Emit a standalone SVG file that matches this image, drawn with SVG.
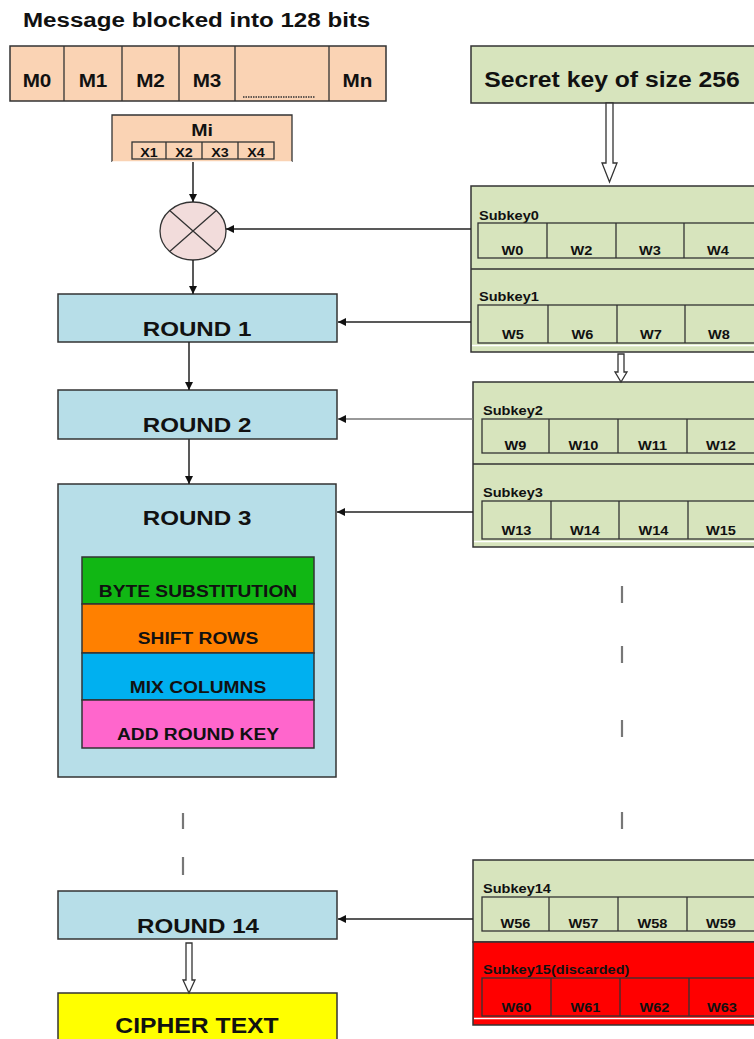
<svg xmlns="http://www.w3.org/2000/svg" width="754" height="1039" viewBox="0 0 754 1039">
<defs>
<style>
text{font-family:"Liberation Sans",Arial,Helvetica,sans-serif;font-weight:bold;fill:#111}
.c{text-anchor:middle}
.box{stroke:#333;stroke-width:1.5}
.cell{fill:none;stroke:#333;stroke-width:1.3}
.peach{fill:#FAD3B4}
.key{fill:#D7E4BD}
.rnd{fill:#B7DEE8}
.ln{stroke:#222;stroke-width:1.5;fill:none}
.lg{stroke:#777;stroke-width:1.5;fill:none}
.dash{stroke:#777;stroke-width:2.2}
.hollow{fill:#fff;stroke:#333;stroke-width:1.3}
.t21{font-size:21px}.t18{font-size:18px}.t17{font-size:17px}.t13{font-size:13px}.t22{font-size:21.5px}
</style>
<marker id="ah" viewBox="0 0 10 10" refX="10" refY="5" markerWidth="10" markerHeight="8" markerUnits="userSpaceOnUse" orient="auto">
<path d="M0,0 L10,5 L0,10 Z" fill="#111"/>
</marker>
</defs>
<rect width="754" height="1039" fill="#fff"/>

<g id="title">
<text class="t21" transform="translate(23,27) scale(1.15,1)">Message blocked into 128 bits</text>
</g>

<g id="message">
<rect class="peach box" x="10" y="46" width="376" height="55"/>
<path class="cell" d="M64,46V101M122,46V101M179,46V101M235,46V101M329,46V101"/>
<text class="t18 c" transform="translate(37,87) scale(1.15,1)">M0</text>
<text class="t18 c" transform="translate(93,87) scale(1.15,1)">M1</text>
<text class="t18 c" transform="translate(150.5,87) scale(1.15,1)">M2</text>
<text class="t18 c" transform="translate(207,87) scale(1.15,1)">M3</text>
<text class="t18 c" transform="translate(357.5,87) scale(1.15,1)">Mn</text>
<line x1="243" y1="97" x2="315" y2="97" stroke="#333" stroke-width="1.5" stroke-dasharray="1.5,1"/>
</g>

<g id="mi">
<rect class="peach" x="112" y="115" width="180" height="47"/>
<path class="cell" d="M112,162V115H292V162"/>
<line x1="112" y1="162" x2="292" y2="162" stroke="#fff" stroke-width="1.5"/>
<text class="t17 c" transform="translate(202,136) scale(1.15,1)">Mi</text>
<rect class="cell" x="132" y="142" width="142" height="17"/>
<path class="cell" d="M166,142V159M202,142V159M238,142V159"/>
<text class="t13 c" transform="translate(149,157) scale(1.1,1)">X1</text>
<text class="t13 c" transform="translate(184,157) scale(1.1,1)">X2</text>
<text class="t13 c" transform="translate(220,157) scale(1.1,1)">X3</text>
<text class="t13 c" transform="translate(256,157) scale(1.1,1)">X4</text>
</g>

<g id="xor">
<ellipse cx="193" cy="231" rx="33" ry="29" fill="#F2DCDB" stroke="#333" stroke-width="1.3"/>
<path d="M169.7,210.5L216.3,251.5M216.3,210.5L169.7,251.5" stroke="#333" stroke-width="1.3"/>
</g>

<g id="secretkey">
<rect class="key box" x="471" y="46" width="300" height="57"/>
<text class="t22 c" transform="translate(612,87) scale(1.15,1)">Secret key of size 256</text>
</g>

<g id="round1">
<rect class="rnd box" x="58" y="294" width="279" height="48"/>
<text class="t21 c" transform="translate(197,336) scale(1.15,1)">ROUND 1</text>
</g>
<g id="round2">
<rect class="rnd box" x="58" y="390" width="279" height="49"/>
<text class="t21 c" transform="translate(197,432) scale(1.15,1)">ROUND 2</text>
</g>
<g id="round3">
<rect class="rnd box" x="58" y="484" width="278" height="293"/>
<text class="t21 c" transform="translate(197,525) scale(1.15,1)">ROUND 3</text>
<rect x="82" y="557" width="232" height="47" fill="#11B714" class="box"/>
<rect x="82" y="604" width="232" height="49" fill="#FF8000" class="box"/>
<rect x="82" y="653" width="232" height="47" fill="#00B0F0" class="box"/>
<rect x="82" y="700" width="232" height="48" fill="#FF66CC" class="box"/>
<text class="t17 c" transform="translate(198,597) scale(1.13,1)">BYTE SUBSTITUTION</text>
<text class="t17 c" transform="translate(198,644) scale(1.13,1)">SHIFT ROWS</text>
<text class="t17 c" transform="translate(198,693) scale(1.13,1)">MIX COLUMNS</text>
<text class="t17 c" transform="translate(198,740) scale(1.13,1)">ADD ROUND KEY</text>
</g>
<g id="round14">
<rect class="rnd box" x="58" y="891" width="279" height="48"/>
<text class="t21 c" transform="translate(198,933) scale(1.15,1)">ROUND 14</text>
</g>
<g id="ciphertext">
<rect x="58" y="993" width="279" height="60" fill="#FFFF00" class="box"/>
<text class="t22 c" transform="translate(197,1033) scale(1.15,1)">CIPHER TEXT</text>
</g>

<g id="subkeys0-1">
<rect class="key box" x="471" y="186" width="300" height="166"/>
<line x1="471" y1="269" x2="754" y2="269" stroke="#333" stroke-width="1.3"/>
<text class="t13" transform="translate(479,220) scale(1.12,1)">Subkey0</text>
<rect class="cell" x="478" y="223" width="280" height="35"/>
<path class="cell" d="M547,223V258M616,223V258M684,223V258"/>
<text class="t13 c" transform="translate(512.5,255) scale(1.12,1)">W0</text>
<text class="t13 c" transform="translate(581.5,255) scale(1.12,1)">W2</text>
<text class="t13 c" transform="translate(650,255) scale(1.12,1)">W3</text>
<text class="t13 c" transform="translate(718,255) scale(1.12,1)">W4</text>
<text class="t13" transform="translate(479,301) scale(1.12,1)">Subkey1</text>
<rect class="cell" x="478" y="305" width="280" height="38"/>
<path class="cell" d="M548,305V343M617,305V343M685,305V343"/>
<text class="t13 c" transform="translate(513,339) scale(1.12,1)">W5</text>
<text class="t13 c" transform="translate(582.5,339) scale(1.12,1)">W6</text>
<text class="t13 c" transform="translate(651,339) scale(1.12,1)">W7</text>
<text class="t13 c" transform="translate(719,339) scale(1.12,1)">W8</text>
<line x1="472" y1="345.5" x2="754" y2="345.5" stroke="#fff" stroke-width="1.5"/>
</g>

<g id="subkeys2-3">
<rect class="key box" x="473" y="382" width="300" height="165"/>
<line x1="473" y1="464" x2="754" y2="464" stroke="#333" stroke-width="1.3"/>
<text class="t13" transform="translate(483,415) scale(1.12,1)">Subkey2</text>
<rect class="cell" x="482" y="419" width="280" height="34"/>
<path class="cell" d="M549,419V453M618,419V453M687,419V453"/>
<text class="t13 c" transform="translate(515.5,450) scale(1.12,1)">W9</text>
<text class="t13 c" transform="translate(583.5,450) scale(1.12,1)">W10</text>
<text class="t13 c" transform="translate(652.5,450) scale(1.12,1)">W11</text>
<text class="t13 c" transform="translate(721,450) scale(1.12,1)">W12</text>
<text class="t13" transform="translate(483,497) scale(1.12,1)">Subkey3</text>
<rect class="cell" x="482" y="501" width="280" height="38"/>
<path class="cell" d="M551,501V539M619,501V539M688,501V539"/>
<text class="t13 c" transform="translate(516.5,535) scale(1.12,1)">W13</text>
<text class="t13 c" transform="translate(585,535) scale(1.12,1)">W14</text>
<text class="t13 c" transform="translate(653.5,535) scale(1.12,1)">W14</text>
<text class="t13 c" transform="translate(721,535) scale(1.12,1)">W15</text>
<line x1="474" y1="541.5" x2="754" y2="541.5" stroke="#fff" stroke-width="1.5"/>
</g>

<g id="subkeys14-15">
<rect class="key box" x="473" y="860" width="300" height="82"/>
<rect x="473" y="942" width="300" height="83" fill="#FF0000" class="box"/>
<text class="t13" transform="translate(483,893) scale(1.12,1)">Subkey14</text>
<rect class="cell" x="482" y="897" width="280" height="34"/>
<path class="cell" d="M549,897V931M618,897V931M687,897V931"/>
<text class="t13 c" transform="translate(515.5,928) scale(1.12,1)">W56</text>
<text class="t13 c" transform="translate(583.5,928) scale(1.12,1)">W57</text>
<text class="t13 c" transform="translate(652.5,928) scale(1.12,1)">W58</text>
<text class="t13 c" transform="translate(721,928) scale(1.12,1)">W59</text>
<text class="t13" transform="translate(483,974) scale(1.12,1)">Subkey15(discarded)</text>
<rect class="cell" x="482" y="978" width="280" height="38"/>
<path class="cell" d="M551,978V1016M620,978V1016M689,978V1016"/>
<text class="t13 c" transform="translate(516.5,1012) scale(1.12,1)">W60</text>
<text class="t13 c" transform="translate(585.5,1012) scale(1.12,1)">W61</text>
<text class="t13 c" transform="translate(654.5,1012) scale(1.12,1)">W62</text>
<text class="t13 c" transform="translate(722,1012) scale(1.12,1)">W63</text>
<line x1="474" y1="1018.5" x2="754" y2="1018.5" stroke="#fff" stroke-width="1.5"/>
</g>

<g id="connectors">
<line class="ln" x1="193" y1="162" x2="193" y2="202" marker-end="url(#ah)"/>
<line class="ln" x1="193" y1="260" x2="193" y2="294" marker-end="url(#ah)"/>
<line class="ln" x1="189" y1="342" x2="189" y2="390" marker-end="url(#ah)"/>
<line class="ln" x1="189" y1="439" x2="189" y2="484" marker-end="url(#ah)"/>
<line class="ln" x1="471" y1="229" x2="226" y2="229" marker-end="url(#ah)"/>
<line class="ln" x1="471" y1="322" x2="338" y2="322" marker-end="url(#ah)"/>
<line class="lg" x1="473" y1="419" x2="338" y2="419" marker-end="url(#ah)"/>
<line class="ln" x1="473" y1="512" x2="337" y2="512" marker-end="url(#ah)"/>
<line class="ln" x1="473" y1="919" x2="338" y2="919" marker-end="url(#ah)"/>
<path class="hollow" d="M606,103H613V163H617L609.5,182L602,163H606Z"/>
<path class="hollow" d="M618,354H624V372H627L621,382L615,372H618Z"/>
<path class="hollow" d="M186,943H192V980H195L189,993L183,980H186Z"/>
<path class="dash" d="M622,586V603M622,646V663M622,720V737M622,812V829M183,813V829M183,857V875"/>
</g>
</svg>
